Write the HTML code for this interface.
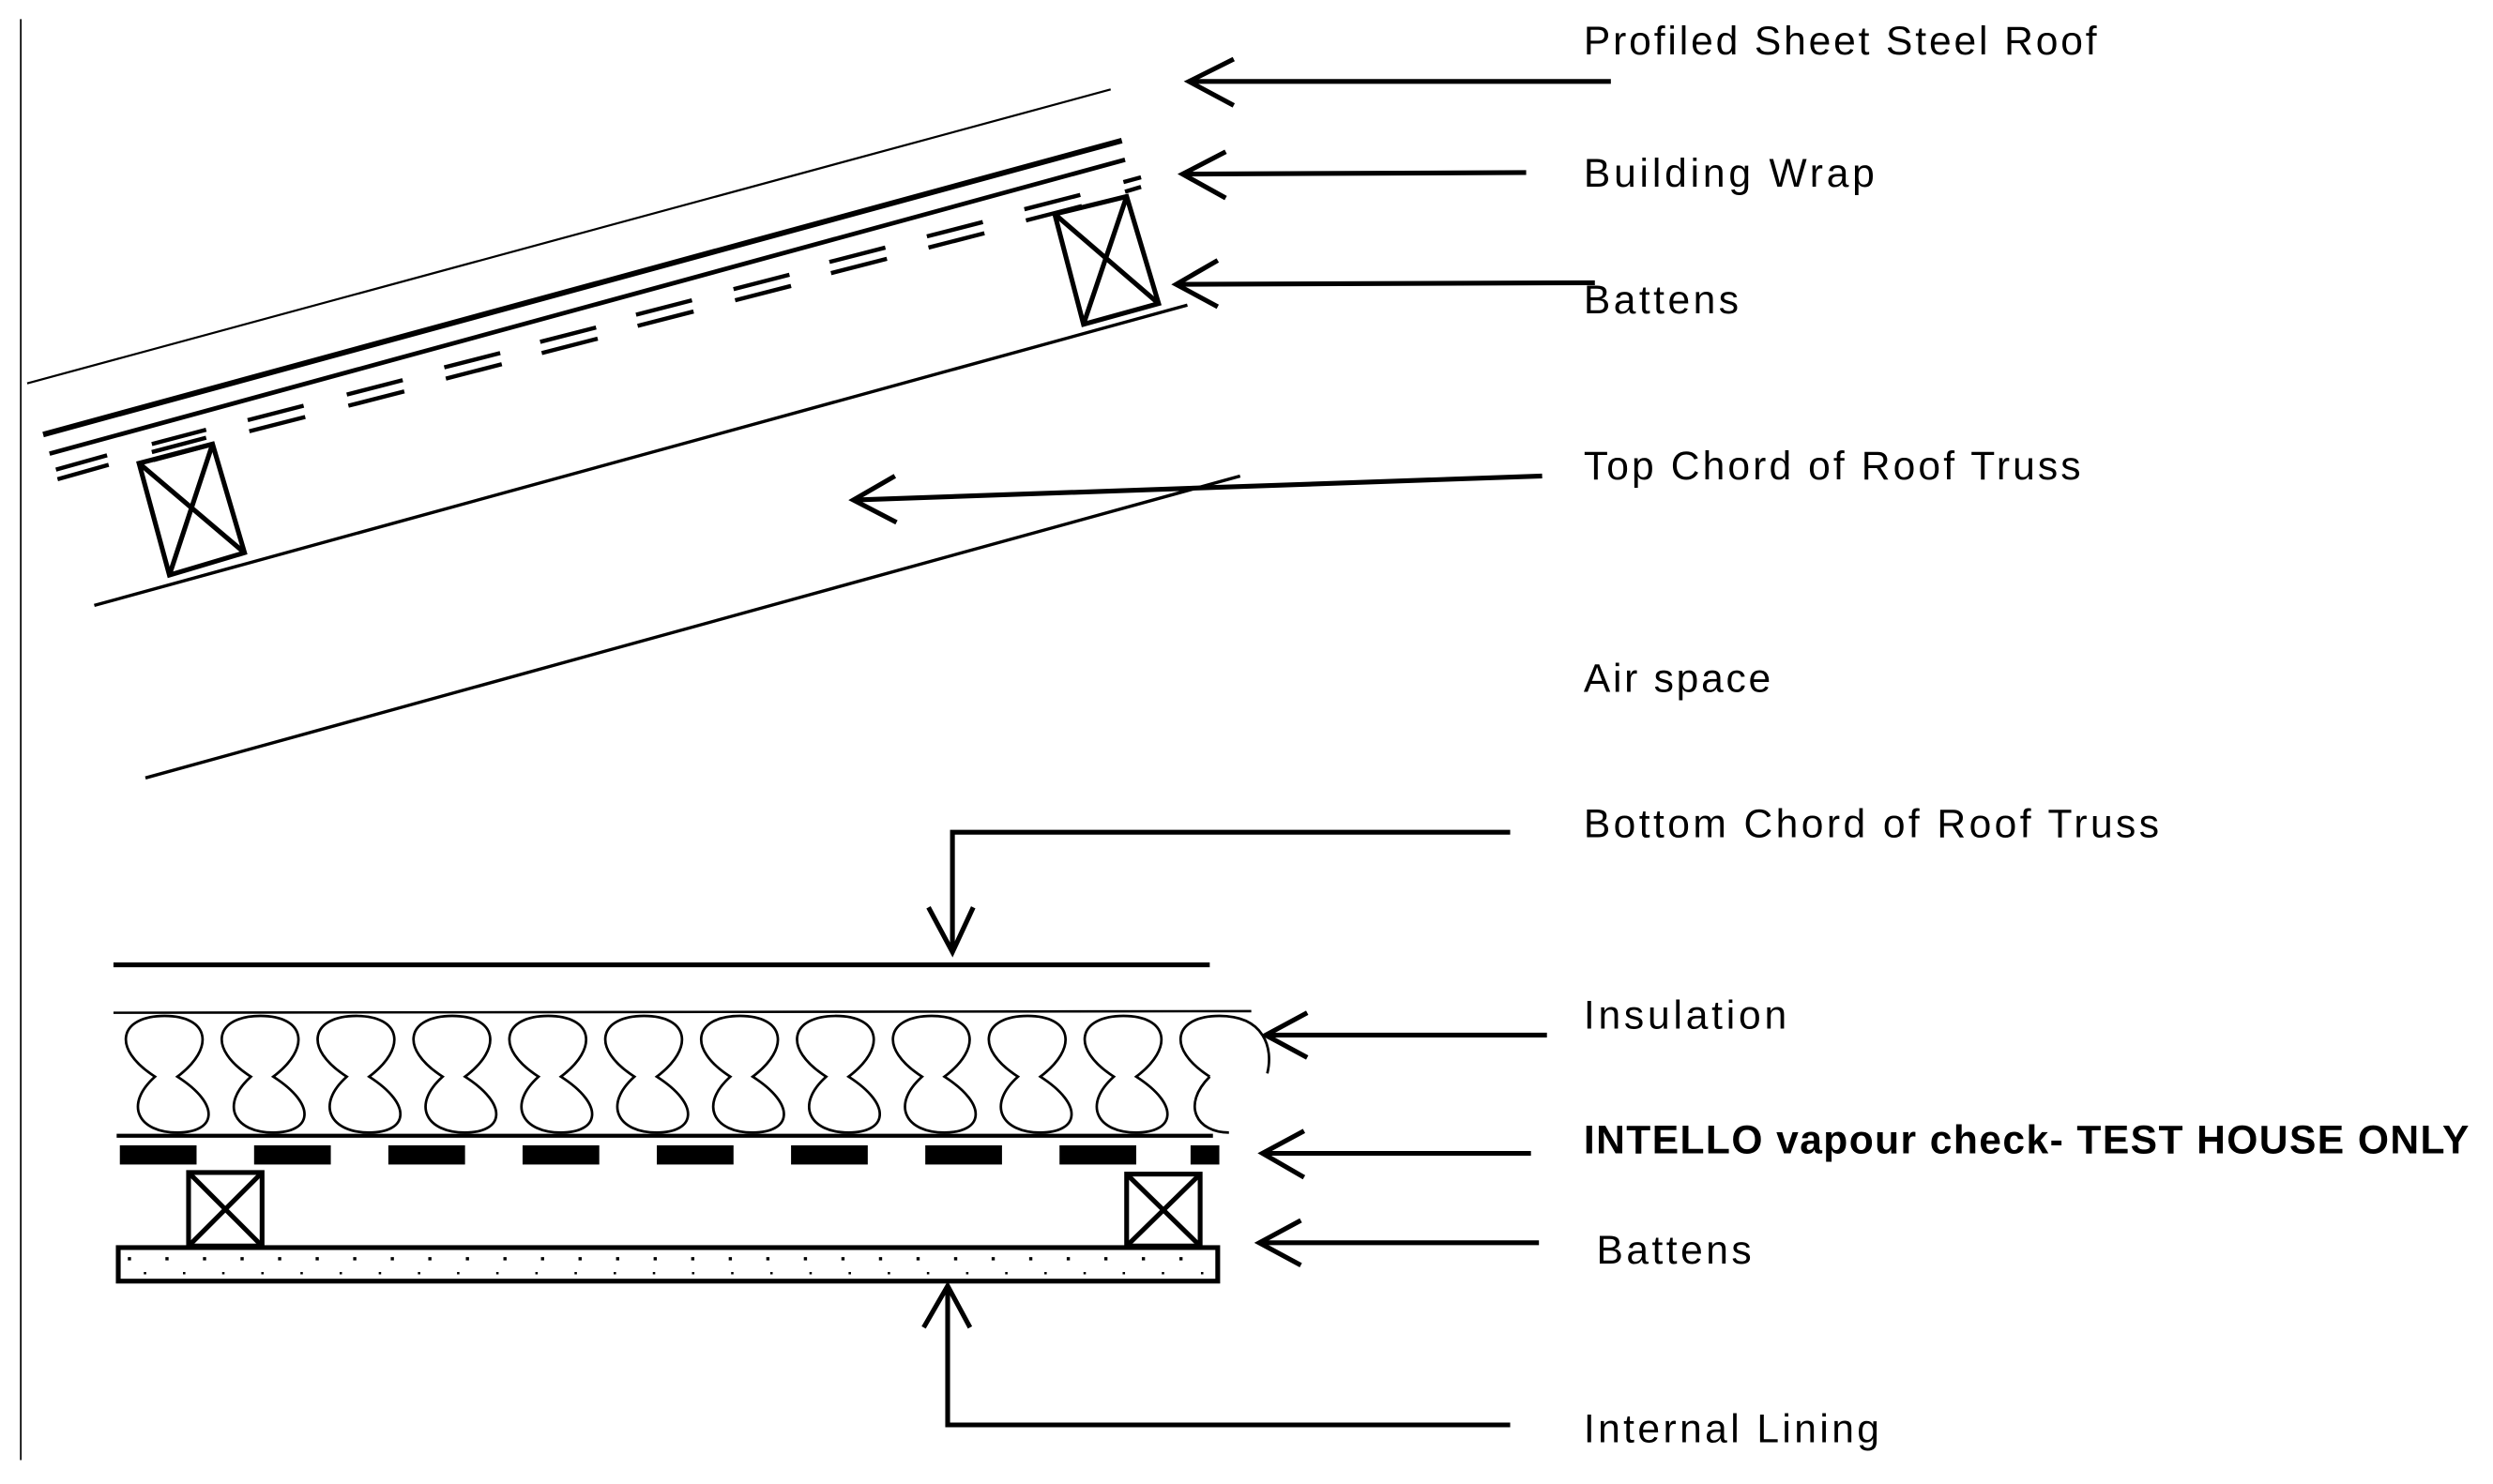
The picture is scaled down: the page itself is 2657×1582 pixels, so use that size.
<!DOCTYPE html>
<html><head><meta charset="utf-8"><style>
html,body{margin:0;padding:0;background:#fff;}
svg{display:block;}
text{font-family:"Liberation Sans",sans-serif;font-size:25px;fill:#000;}
</style></head><body>
<svg width="2657" height="1582" viewBox="0 0 1560 929" preserveAspectRatio="none" xmlns="http://www.w3.org/2000/svg">
<defs>
<path id="lp" d="M-6,674 C-34,656 -28,636 0,636 C28,636 32,656 8,674 C36,692 32,709 8,709 C-16,709 -26,692 -6,674 Z"/>
</defs>
<g stroke="#000" fill="none" stroke-linecap="butt">
<line x1="13" y1="12" x2="13" y2="914" stroke-width="1"/>
<line x1="17" y1="240" x2="695" y2="56" stroke-width="1.3"/>
<line x1="27" y1="272" x2="702" y2="88" stroke-width="3.5"/>
<line x1="31" y1="284" x2="704" y2="100" stroke-width="2.8"/>
<g stroke-width="2.6">
<line x1="35" y1="294" x2="67" y2="285"/><line x1="36" y1="300" x2="68" y2="291"/>
<line x1="95" y1="278" x2="129" y2="269"/><line x1="95" y1="283" x2="129" y2="274"/><line x1="96" y1="288" x2="130" y2="279"/>
<line x1="155" y1="263" x2="190" y2="254"/><line x1="156" y1="270" x2="191" y2="261"/>
<line x1="217" y1="247" x2="252" y2="238"/><line x1="218" y1="254" x2="253" y2="245"/>
<line x1="278" y1="230" x2="313" y2="221"/><line x1="279" y1="237" x2="314" y2="228"/>
<line x1="338" y1="214" x2="373" y2="205"/><line x1="339" y1="221" x2="374" y2="212"/>
<line x1="398" y1="197" x2="433" y2="188"/><line x1="399" y1="204" x2="434" y2="195"/>
<line x1="459" y1="181" x2="494" y2="172"/><line x1="460" y1="188" x2="495" y2="179"/>
<line x1="519" y1="164" x2="554" y2="155"/><line x1="520" y1="171" x2="555" y2="162"/>
<line x1="580" y1="148" x2="615" y2="139"/><line x1="581" y1="155" x2="616" y2="146"/>
<line x1="641" y1="131" x2="676" y2="122"/><line x1="642" y1="138" x2="677" y2="129"/>
<line x1="703" y1="114" x2="714" y2="111"/><line x1="704" y1="120" x2="714" y2="117"/>
</g>
<g stroke-width="3">
<polygon points="87,290 133,278 153,346 106,360"/>
<line x1="87" y1="290" x2="153" y2="346"/><line x1="133" y1="278" x2="106" y2="360"/>
<polygon points="660,134 705,123 725,190 678,203"/>
<line x1="660" y1="134" x2="725" y2="190"/><line x1="705" y1="123" x2="678" y2="203"/>
</g>
<line x1="59" y1="379" x2="743" y2="191" stroke-width="2"/>
<line x1="91" y1="487" x2="776" y2="298" stroke-width="2"/>
<g stroke-width="3">
<line x1="744" y1="51" x2="1008" y2="51"/><polyline points="772,37 744,51 772,66"/>
<line x1="740" y1="109" x2="955" y2="108"/><polyline points="767,95 740,109 767,124"/>
<line x1="736" y1="178" x2="998" y2="177"/><polyline points="762,163 736,178 762,192"/>
<line x1="534" y1="313" x2="965" y2="298"/><polyline points="560,298 534,313 561,327"/>
</g>
<g stroke-width="3">
<polyline points="945,521 596,521 596,596"/><polyline points="581,568 596,596 609,568"/>
<line x1="71" y1="604" x2="757" y2="604"/>
<polyline points="593,805 593,892 945,892"/><polyline points="578,831 593,805 607,831"/>
<line x1="792" y1="648" x2="968" y2="648"/><polyline points="818,634 792,648 818,662"/>
<line x1="790" y1="722" x2="958" y2="722"/><polyline points="816,708 790,722 816,737"/>
<line x1="788" y1="778" x2="963" y2="778"/><polyline points="814,764 788,778 814,792"/>
</g>
<line x1="71" y1="634" x2="783" y2="633" stroke-width="1.5"/>
<line x1="73" y1="711" x2="759" y2="711" stroke-width="2.5"/>
<g stroke-width="1.6">
<use href="#lp" x="103"/><use href="#lp" x="163"/><use href="#lp" x="223"/><use href="#lp" x="283"/>
<use href="#lp" x="343"/><use href="#lp" x="403"/><use href="#lp" x="463"/><use href="#lp" x="523"/>
<use href="#lp" x="583"/><use href="#lp" x="643"/><use href="#lp" x="703"/>
<path d="M757,674 C729,656 735,636 763,636 C791,636 797,656 793,672 M757,674 C739,692 749,709 769,709"/>
</g>
<g stroke-width="3">
<rect x="118" y="734" width="46" height="46"/>
<line x1="118" y1="734" x2="164" y2="780"/><line x1="164" y1="734" x2="118" y2="780"/>
<rect x="705" y="735" width="46" height="45"/>
<line x1="705" y1="735" x2="751" y2="780"/><line x1="751" y1="735" x2="705" y2="780"/>
<rect x="74" y="781" width="688" height="21"/>
</g>
<line x1="80" y1="788" x2="758" y2="788" stroke-width="2" stroke-dasharray="2 21.5"/>
<line x1="90" y1="797" x2="758" y2="797" stroke-width="1.5" stroke-dasharray="1.5 23"/>
</g>
<g fill="#000">
<rect x="75" y="717" width="48" height="12"/><rect x="159" y="717" width="48" height="12"/>
<rect x="243" y="717" width="48" height="12"/><rect x="327" y="717" width="48" height="12"/>
<rect x="411" y="717" width="48" height="12"/><rect x="495" y="717" width="48" height="12"/>
<rect x="579" y="717" width="48" height="12"/><rect x="663" y="717" width="48" height="12"/>
<rect x="745" y="717" width="18" height="12"/>
</g>
<text x="991" y="34" textLength="321">Profiled Sheet Steel Roof</text>
<text x="991" y="117" textLength="182">Building Wrap</text>
<text x="991" y="196" textLength="97">Battens</text>
<text x="991" y="300" textLength="311">Top Chord of Roof Truss</text>
<text x="991" y="433" textLength="117">Air space</text>
<text x="991" y="524" textLength="360">Bottom Chord of Roof Truss</text>
<text x="991" y="644" textLength="127">Insulation</text>
<text x="991" y="722" textLength="554" style="font-weight:bold">INTELLO vapour check- TEST HOUSE ONLY</text>
<text x="999" y="791" textLength="97">Battens</text>
<text x="991" y="903" textLength="185">Internal Lining</text>
</svg>
</body></html>
